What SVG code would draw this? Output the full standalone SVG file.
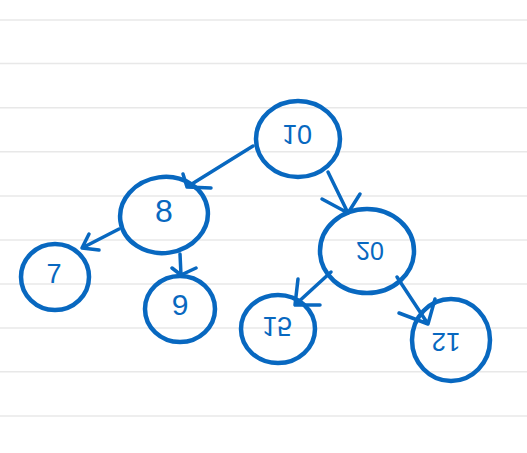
<svg xmlns="http://www.w3.org/2000/svg" width="527" height="453" viewBox="0 0 527 453">
<style>
.rule{stroke:#e8e8e8;stroke-width:1.6}
.node{fill:none;stroke:#0868c0;stroke-width:4.5}
.edge{fill:none;stroke:#0868c0;stroke-width:3.5;stroke-linecap:round;stroke-linejoin:round}
.lbl{font-family:"Liberation Sans",Arial,sans-serif;font-size:27px;fill:#0868c0;text-anchor:middle}
</style>
<rect width="527" height="453" fill="#ffffff"/>
<g id="rules">
<line class="rule" x1="0" y1="20" x2="527" y2="20"/>
<line class="rule" x1="0" y1="63.5" x2="527" y2="63.5"/>
<line class="rule" x1="0" y1="107.7" x2="527" y2="107.7"/>
<line class="rule" x1="0" y1="151.7" x2="527" y2="151.7"/>
<line class="rule" x1="0" y1="196" x2="527" y2="196"/>
<line class="rule" x1="0" y1="240" x2="527" y2="240"/>
<line class="rule" x1="0" y1="284" x2="527" y2="284"/>
<line class="rule" x1="0" y1="328" x2="527" y2="328"/>
<line class="rule" x1="0" y1="371.7" x2="527" y2="371.7"/>
<line class="rule" x1="0" y1="416" x2="527" y2="416"/>
</g>
<g id="connectors">
<path class="edge" d="M253,146 L187,187 M183,174 L187,187 L211,188"/>
<path class="edge" d="M119,229 L82,248 M89,234 L82,248 L99,250"/>
<path class="edge" d="M180,254 L181,275 M172,268 L181,275 L196,268"/>
<path class="edge" d="M328,172 L348,213 M322,199 L348,213 L360,194"/>
<path class="edge" d="M331,272 L295,305 M298,279 L295,305 L320,305"/>
<path class="edge" d="M397,277 L428,324 M399,313 L428,324 L435,299"/>
</g>
<g id="node-10">
<ellipse class="node" cx="298" cy="139" rx="42" ry="38"/>
<text class="lbl" transform="translate(297,135) scale(1,-1)" x="0" y="10">10</text>
</g>
<g id="node-8">
<ellipse class="node" cx="164" cy="215" rx="44" ry="38" transform="rotate(-8 164 215)"/>
<text class="lbl" x="164" y="222" style="font-size:32px">8</text>
</g>
<g id="node-7">
<ellipse class="node" cx="55" cy="277" rx="34" ry="33"/>
<text class="lbl" x="54" y="283">7</text>
</g>
<g id="node-9">
<ellipse class="node" cx="180" cy="309" rx="35" ry="33"/>
<text class="lbl" x="180" y="315" style="font-size:30px">9</text>
</g>
<g id="node-20">
<ellipse class="node" cx="367" cy="251" rx="47" ry="42"/>
<text class="lbl" transform="translate(370,251) scale(1,-1)" x="0" y="9" style="font-size:25px">20</text>
</g>
<g id="node-15">
<ellipse class="node" cx="278" cy="329" rx="37" ry="34"/>
<text class="lbl" transform="translate(277,327) scale(1,-1)" x="0" y="10">15</text>
</g>
<g id="node-12">
<ellipse class="node" cx="451" cy="340" rx="39" ry="41"/>
<text class="lbl" transform="translate(446,342) rotate(180)" x="0" y="9" style="font-size:26px">12</text>
</g>
</svg>
